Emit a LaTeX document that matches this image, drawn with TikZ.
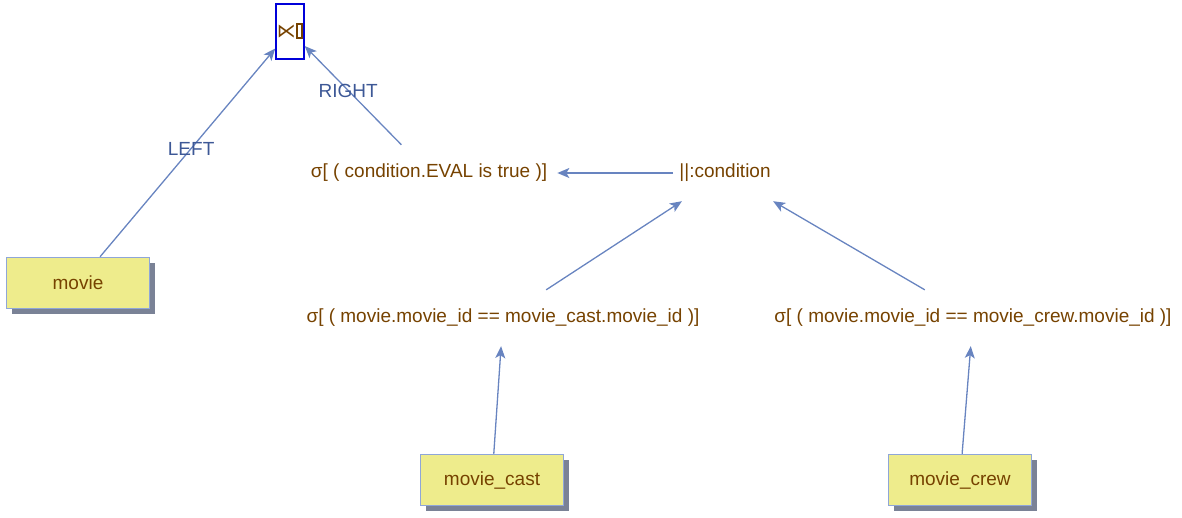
\documentclass[tikz,border=0pt]{standalone}
\usepackage{fontspec}
\setmainfont{Liberation Sans}
\newfontfamily\symfont{DejaVu Sans}
\usetikzlibrary{shadows,arrows.meta}

\definecolor{txtbrown}{RGB}{118,66,0}
\definecolor{lblblue}{RGB}{61,88,150}
\definecolor{arrblue}{RGB}{104,132,192}
\definecolor{boxfill}{RGB}{238,236,140}
\definecolor{boxline}{RGB}{143,166,216}
\definecolor{shadowgrey}{RGB}{122,130,150}

\begin{document}
\begin{tikzpicture}[x=1pt, y=-1pt,
  every node/.style={font=\fontsize{19}{23}\selectfont, text=txtbrown},
  rel/.style={inner xsep=10pt, minimum height=56pt},
  tablebox/.style={draw=boxline, line width=1.5pt, fill=boxfill,
    minimum width=143pt, minimum height=51pt,
    drop shadow={shadow xshift=5pt, shadow yshift=-5pt, opacity=1, fill=shadowgrey}},
  joinbox/.style={draw=blue!85!black, line width=2pt, minimum width=26pt, minimum height=55pt, inner sep=0.5pt},
  arr/.style={draw=arrblue, line width=1.3pt, -{Stealth[length=12pt, width=10pt, inset=3pt]}},
  lbl/.style={text=lblblue}]
\useasboundingbox (0,0) rectangle (1182,517);

% operators
\node[joinbox] (semijoin) at (290,31) {{\symfont\fontsize{19}{23}\selectfont ⋉}\hspace{0.5pt}\setlength{\fboxrule}{2pt}\setlength{\fboxsep}{0pt}\fbox{\rule{0pt}{12pt}\hspace{3pt}}};
\node[rel] (sel1) at (429,173) {σ[ ( condition.EVAL is true )]};
\node[rel, inner xsep=6pt] (cond) at (725,173) {||:condition};
\node[rel] (sel2) at (503,318) {σ[ ( movie.movie\_id == movie\_cast.movie\_id )]};
\node[rel] (sel3) at (973,318) {σ[ ( movie.movie\_id == movie\_crew.movie\_id )]};

% tables
\node[tablebox] (movie) at (78,283) {movie};
\node[tablebox] (cast) at (492,480) {movie\_cast};
\node[tablebox] (crew) at (960,480) {movie\_crew};

% edges
\draw[arr] (movie) -- (semijoin) node[lbl, pos=0.52] {LEFT};
\draw[arr] (sel1) -- (semijoin) node[lbl, pos=0.55] {RIGHT};
\draw[arr] (cond) -- (sel1);
\draw[arr] (sel2) -- (cond);
\draw[arr] (sel3) -- (cond);
\draw[arr] (cast) -- (sel2);
\draw[arr] (crew) -- (sel3);
\end{tikzpicture}
\end{document}
